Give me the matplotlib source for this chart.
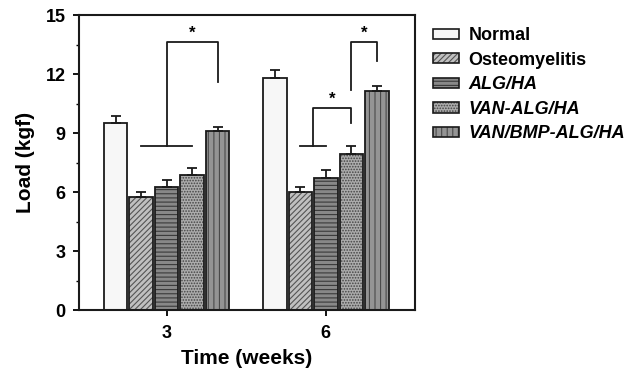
import numpy as np
import matplotlib.pyplot as plt
from matplotlib.patches import Patch
from matplotlib.legend_handler import HandlerTuple

plt.rcParams['font.family'] = ['Liberation Sans', 'DejaVu Sans']
plt.rcParams['font.weight'] = 'bold'
plt.rcParams['hatch.linewidth'] = 0.8

weeks = ['3', '6']
groups = ['Normal', 'Osteomyelitis', 'ALG/HA', 'VAN-ALG/HA', 'VAN/BMP-ALG/HA']
load = [[9.5, 11.78],
        [5.75, 6.0],
        [6.25, 6.7],
        [6.85, 7.95],
        [9.1, 11.15]]
err = [[0.35, 0.44],
       [0.27, 0.27],
       [0.35, 0.4],
       [0.35, 0.38],
       [0.18, 0.22]]

# look of each series: face colour, hatch, hatch colour
faces = ['#f7f7f7', '#c0c0c0', '#888888', '#acacac', '#949494']
hatches = [None, '//////', '----', '......', '|||']
hcols = ['#f7f7f7', '#555555', '#3a3a3a', '#444444', '#4a4a4a']
italic = [False, False, True, True, True]

fig = plt.figure(figsize=(6.44, 3.77), dpi=100)
ax = fig.add_axes([0.1227, 0.1777, 0.5217, 0.7825])

x = np.arange(len(weeks))
step = 0.16
w = 0.148
handles = []
for i in range(len(groups)):
    xs = x + (i - 2) * step
    ax.bar(xs, load[i], w, color=faces[i], hatch=hatches[i],
           edgecolor=hcols[i], linewidth=0, zorder=2)
    ax.bar(xs, load[i], w, fill=False, edgecolor='#1a1a1a', linewidth=1.3, zorder=3)
    ax.errorbar(xs, load[i], yerr=[np.zeros(2), err[i]], fmt='none',
                ecolor='#1a1a1a', elinewidth=1.3, capsize=3.6, capthick=1.3, zorder=4)
    handles.append((Patch(facecolor=faces[i], hatch=hatches[i], edgecolor=hcols[i], linewidth=0),
                    Patch(fill=False, edgecolor='#1a1a1a', linewidth=1.2)))

# significance brackets
lk = dict(color='#1a1a1a', lw=1.3, zorder=5)
def pos(g, i):
    return x[g] + (i - 2) * step

ax.plot([pos(0, 1), pos(0, 3)], [8.34, 8.34], **lk)
ax.plot([x[0], x[0], pos(0, 4), pos(0, 4)], [8.34, 13.63, 13.63, 11.6], **lk)
ax.text((x[0] + pos(0, 4)) / 2, 13.7, '*', ha='center', va='bottom', fontsize=12)

ax.plot([pos(1, 1), pos(1, 2)], [8.34, 8.34], **lk)
m = (pos(1, 1) + pos(1, 2)) / 2
ax.plot([m, m, pos(1, 3), pos(1, 3)], [8.34, 10.29, 10.29, 9.52], **lk)
ax.text((m + pos(1, 3)) / 2, 10.35, '*', ha='center', va='bottom', fontsize=12)

ax.plot([pos(1, 3), pos(1, 3), pos(1, 4), pos(1, 4)], [11.18, 13.63, 13.63, 12.66], **lk)
ax.text((pos(1, 3) + pos(1, 4)) / 2, 13.7, '*', ha='center', va='bottom', fontsize=12)

ax.set_xlim(-0.55, 1.56)
ax.set_ylim(0, 15)
ax.set_yticks(np.arange(0, 16, 3))
ax.set_yticks(np.arange(1.5, 15, 3), minor=True)
ax.set_xticks(x)
ax.set_xticklabels(weeks)
ax.tick_params(axis='both', which='major', direction='out', length=4, width=1.3,
               labelsize=13, pad=5.5)
ax.tick_params(axis='y', which='minor', direction='out', length=2.5, width=1)
ax.tick_params(axis='x', pad=7)
for s in ax.spines.values():
    s.set_linewidth(1.5)
    s.set_color('#1a1a1a')

ax.set_xlabel('Time (weeks)', fontsize=15, fontweight='bold', labelpad=5)
ax.set_ylabel('Load (kgf)', fontsize=15, fontweight='bold', labelpad=8)

leg = ax.legend(handles, groups, handler_map={tuple: HandlerTuple(ndivide=1, pad=0)},
                loc='upper left', bbox_to_anchor=(0.673, 0.928), bbox_transform=fig.transFigure,
                frameon=False, borderpad=0, borderaxespad=0, fontsize=13,
                handlelength=1.4, handleheight=0.5, handletextpad=0.55, labelspacing=0.42)
for t, it in zip(leg.get_texts(), italic):
    t.set_fontweight('bold')
    if it:
        t.set_fontstyle('italic')

fig.savefig('out.png', dpi=100)
